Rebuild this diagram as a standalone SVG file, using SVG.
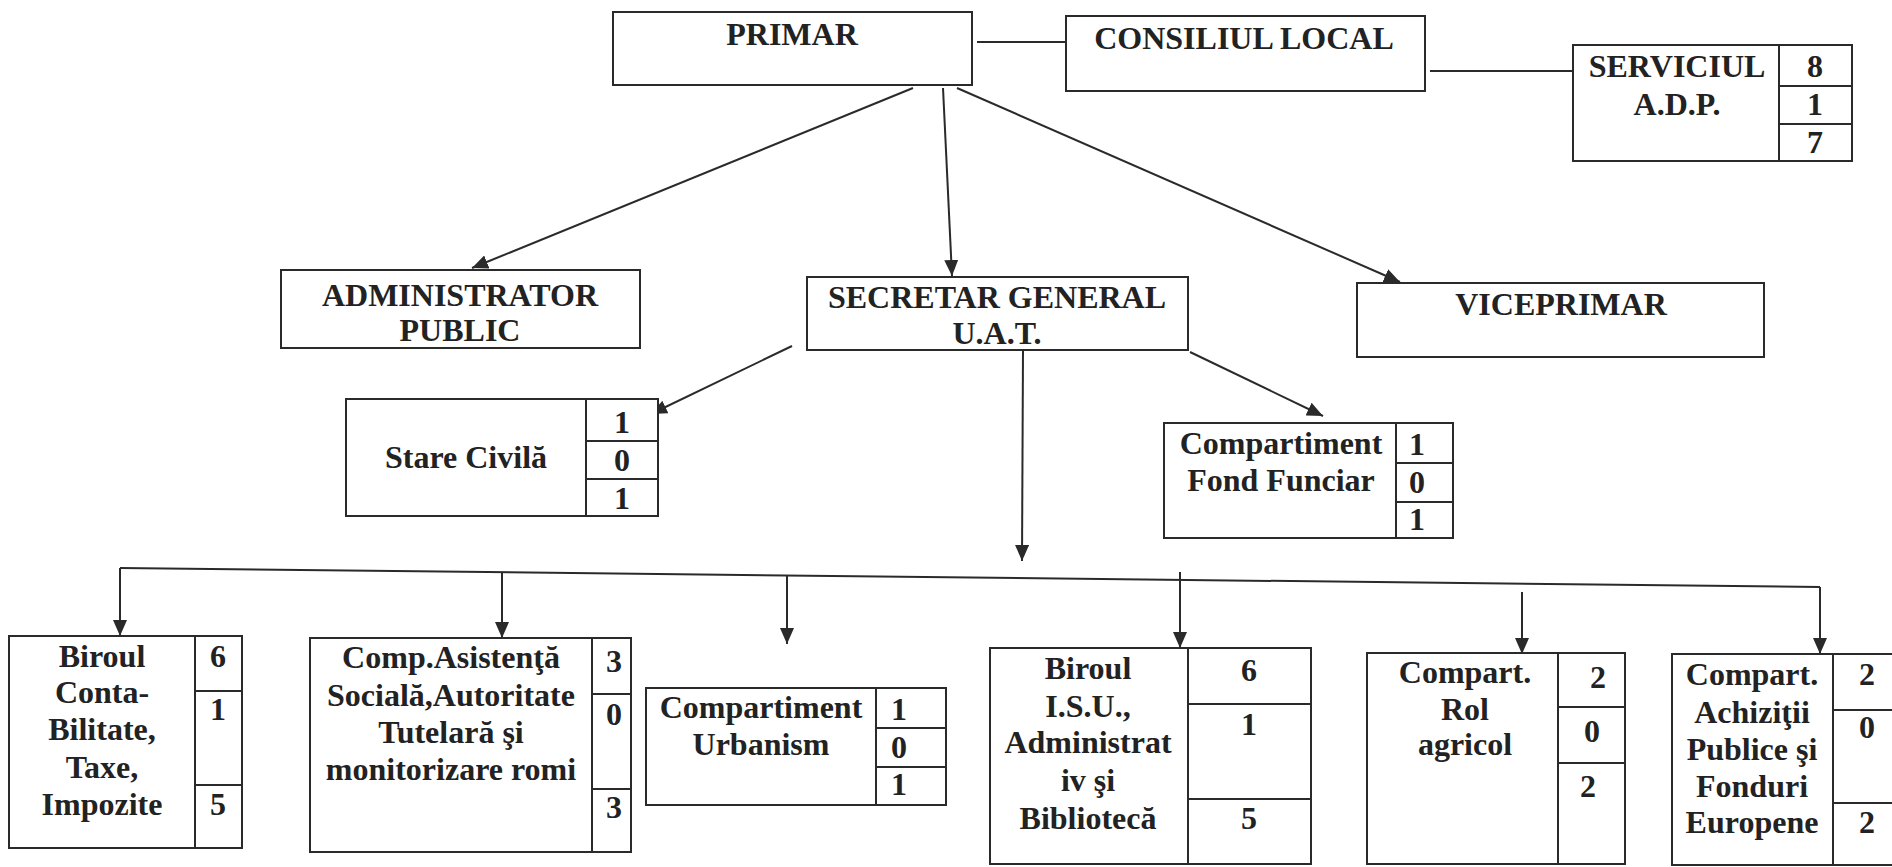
<svg xmlns="http://www.w3.org/2000/svg" width="1892" height="867" viewBox="0 0 1892 867">
<style>
  .box{fill:#ffffff;stroke:#2a2a2a;stroke-width:2}
  .div{stroke:#2a2a2a;stroke-width:2;fill:none}
  .con{stroke:#2a2a2a;stroke-width:2;fill:none}
  .arr{marker-end:url(#ah)}
  text{font-family:"Liberation Serif","Times New Roman",serif;font-weight:bold;font-size:32px;fill:#222;text-anchor:middle}
</style>
<defs>
  <marker id="ah" markerUnits="userSpaceOnUse" markerWidth="16" markerHeight="14" refX="16" refY="7" orient="auto">
    <path d="M0,0 L16,7 L0,14 z" fill="#2a2a2a"/>
  </marker>
</defs>
<rect width="1892" height="867" fill="#ffffff"/>

<g id="connectors">
  <line class="con" x1="977" y1="42" x2="1066" y2="42"/>
  <line class="con" x1="1430" y1="71" x2="1573" y2="71"/>
  <line class="con arr" x1="913" y1="88" x2="472" y2="268"/>
  <line class="con arr" x1="943" y1="88" x2="952" y2="276"/>
  <line class="con arr" x1="957" y1="88" x2="1400" y2="282"/>
  <line class="con arr" x1="792" y1="346" x2="651" y2="414"/>
  <line class="con arr" x1="1190" y1="352" x2="1323" y2="416"/>
  <line class="con arr" x1="1023" y1="350" x2="1022" y2="561"/>
  <line class="con" x1="120" y1="568" x2="1820" y2="587"/>
  <line class="con arr" x1="120" y1="568" x2="120" y2="636"/>
  <line class="con arr" x1="502" y1="572" x2="502" y2="638"/>
  <line class="con arr" x1="787" y1="575" x2="787" y2="644"/>
  <line class="con arr" x1="1180" y1="572" x2="1180" y2="648"/>
  <line class="con arr" x1="1522" y1="592" x2="1522" y2="654"/>
  <line class="con arr" x1="1820" y1="587" x2="1820" y2="654"/>
</g>

<g id="primar">
  <rect class="box" x="613" y="12" width="359" height="73"/>
  <text x="792" y="45">PRIMAR</text>
</g>

<g id="consiliul-local">
  <rect class="box" x="1066" y="16" width="359" height="75"/>
  <text x="1244" y="49">CONSILIUL LOCAL</text>
</g>

<g id="serviciul-adp">
  <rect class="box" x="1573" y="45" width="279" height="116"/>
  <path class="div" d="M1779,45 V161 M1779,86 H1852 M1779,124 H1852"/>
  <text x="1677" y="77">SERVICIUL</text>
  <text x="1677" y="115">A.D.P.</text>
  <text x="1815" y="77">8</text>
  <text x="1815" y="115">1</text>
  <text x="1815" y="153">7</text>
</g>

<g id="administrator-public">
  <rect class="box" x="281" y="270" width="359" height="78"/>
  <text x="460" y="306">ADMINISTRATOR</text>
  <text x="460" y="341">PUBLIC</text>
</g>

<g id="secretar-general">
  <rect class="box" x="807" y="277" width="381" height="73"/>
  <text x="997" y="308">SECRETAR GENERAL</text>
  <text x="997" y="344">U.A.T.</text>
</g>

<g id="viceprimar">
  <rect class="box" x="1357" y="283" width="407" height="74"/>
  <text x="1561" y="315">VICEPRIMAR</text>
</g>

<g id="stare-civila">
  <rect class="box" x="346" y="399" width="312" height="117"/>
  <path class="div" d="M586,399 V516 M586,441 H658 M586,479 H658"/>
  <text x="466" y="468">Stare Civilă</text>
  <text x="622" y="433">1</text>
  <text x="622" y="471">0</text>
  <text x="622" y="509">1</text>
</g>

<g id="fond-funciar">
  <rect class="box" x="1164" y="423" width="289" height="115"/>
  <path class="div" d="M1396,423 V538 M1396,463 H1453 M1396,502 H1453"/>
  <text x="1281" y="454">Compartiment</text>
  <text x="1281" y="491">Fond Funciar</text>
  <text x="1417" y="455">1</text>
  <text x="1417" y="493">0</text>
  <text x="1417" y="530">1</text>
</g>

<g id="biroul-contabilitate">
  <rect class="box" x="9" y="636" width="233" height="212"/>
  <path class="div" d="M195,636 V848 M195,691 H242 M195,785 H242"/>
  <text x="102" y="667">Biroul</text>
  <text x="102" y="703">Conta-</text>
  <text x="102" y="740">Bilitate,</text>
  <text x="102" y="778">Taxe,</text>
  <text x="102" y="815">Impozite</text>
  <text x="218" y="667">6</text>
  <text x="218" y="720">1</text>
  <text x="218" y="815">5</text>
</g>

<g id="asistenta-sociala">
  <rect class="box" x="310" y="638" width="321" height="214"/>
  <path class="div" d="M592,638 V852 M592,694 H631 M592,789 H631"/>
  <text x="451" y="668">Comp.Asistenţă</text>
  <text x="451" y="706">Socială,Autoritate</text>
  <text x="451" y="743">Tutelară şi</text>
  <text x="451" y="780">monitorizare romi</text>
  <text x="614" y="672">3</text>
  <text x="614" y="725">0</text>
  <text x="614" y="818">3</text>
</g>

<g id="urbanism">
  <rect class="box" x="646" y="688" width="300" height="117"/>
  <path class="div" d="M876,688 V805 M876,728 H946 M876,767 H946"/>
  <text x="761" y="718">Compartiment</text>
  <text x="761" y="755">Urbanism</text>
  <text x="899" y="720">1</text>
  <text x="899" y="758">0</text>
  <text x="899" y="795">1</text>
</g>

<g id="biroul-isu">
  <rect class="box" x="990" y="648" width="321" height="216"/>
  <path class="div" d="M1188,648 V864 M1188,704 H1311 M1188,799 H1311"/>
  <text x="1088" y="679">Biroul</text>
  <text x="1088" y="717">I.S.U.,</text>
  <text x="1088" y="753">Administrat</text>
  <text x="1088" y="791">iv şi</text>
  <text x="1088" y="829">Bibliotecă</text>
  <text x="1249" y="681">6</text>
  <text x="1249" y="735">1</text>
  <text x="1249" y="829">5</text>
</g>

<g id="rol-agricol">
  <rect class="box" x="1367" y="653" width="258" height="211"/>
  <path class="div" d="M1558,653 V864 M1558,707 H1625 M1558,763 H1625"/>
  <text x="1465" y="683">Compart.</text>
  <text x="1465" y="720">Rol</text>
  <text x="1465" y="755">agricol</text>
  <text x="1598" y="688">2</text>
  <text x="1592" y="742">0</text>
  <text x="1588" y="797">2</text>
</g>

<g id="achizitii-publice">
  <rect class="box" x="1672" y="654" width="240" height="211"/>
  <path class="div" d="M1833,654 V865 M1833,710 H1892 M1833,803 H1892"/>
  <text x="1752" y="685">Compart.</text>
  <text x="1752" y="723">Achiziţii</text>
  <text x="1752" y="760">Publice şi</text>
  <text x="1752" y="797">Fonduri</text>
  <text x="1752" y="833">Europene</text>
  <text x="1867" y="685">2</text>
  <text x="1867" y="738">0</text>
  <text x="1867" y="833">2</text>
</g>
</svg>
